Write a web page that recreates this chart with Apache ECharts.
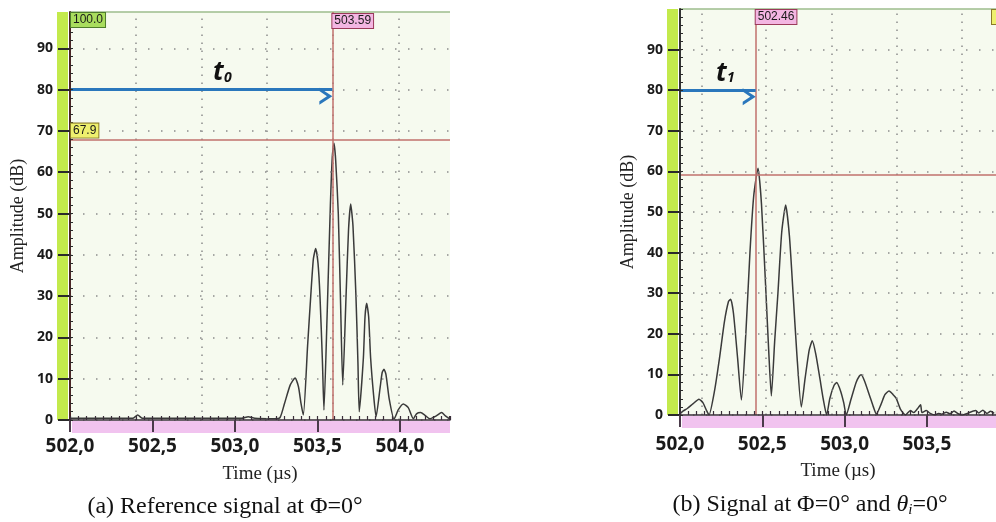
<!DOCTYPE html>
<html>
<head>
<meta charset="utf-8">
<script src="https://cdn.jsdelivr.net/npm/echarts@6/dist/echarts.min.js"></script>
<style>
html, body { margin: 0; padding: 0; background: #fff; }
#main { width: 996px; height: 522px; }
</style>
</head>
<body>
<div id="main"></div>
<script>
// signal (a): reference signal, [time us, amplitude dB]
var leftSignal = [
    [502.00, 0.4], [502.20, 0.4], [502.38, 0.4], [502.41, 1.2], [502.44, 0.4], [502.80, 0.4],
    [503.04, 0.4], [503.08, 0.8], [503.12, 0.4], [503.24, 0.3], [503.273, 0.6],
    [503.30, 4], [503.335, 8.5], [503.364, 10.2], [503.385, 8], [503.40, 4], [503.414, 1.2],
    [503.44, 18], [503.459, 30], [503.475, 39], [503.489, 41.5], [503.503, 38], [503.515, 30], [503.53, 14], [503.539, 2.4],
    [503.558, 25], [503.578, 52], [503.59, 64], [503.60, 67], [503.61, 63], [503.626, 50], [503.64, 28], [503.653, 8.5],
    [503.673, 30], [503.688, 46], [503.701, 52.3], [503.715, 47], [503.733, 30], [503.745, 14], [503.753, 2],
    [503.778, 15], [503.788, 25], [503.798, 28.3], [503.81, 25], [503.822, 15], [503.84, 6], [503.855, 0.8],
    [503.88, 8], [503.892, 11.5], [503.903, 12.3], [503.915, 11], [503.935, 5], [503.964, 0.2],
    [503.99, 2.5], [504.02, 3.9], [504.05, 3], [504.081, 0.3], [504.10, 1.5], [504.125, 1.8], [504.15, 1.2],
    [504.18, 0.3], [504.22, 1.0], [504.252, 1.8], [504.275, 1.0], [504.30, 0.3]
];
// signal (b): phi=0, theta=0
var rightSignal = [
    [502.00, 0.3], [502.02, 1.0], [502.044, 1.6], [502.08, 2.8], [502.115, 3.9], [502.14, 3.0], [502.16, 1.2], [502.176, 0],
    [502.21, 6], [502.24, 14], [502.27, 23], [502.295, 28], [502.308, 28.5], [502.325, 25], [502.35, 14], [502.373, 3.7],
    [502.40, 20], [502.425, 40], [502.448, 54], [502.474, 60.8], [502.495, 52], [502.52, 32], [502.54, 15], [502.555, 4.7],
    [502.575, 18], [502.595, 30], [502.618, 45], [502.642, 51.7], [502.665, 44], [502.687, 30], [502.71, 15], [502.737, 2.0],
    [502.76, 9], [502.785, 16], [502.804, 18.3], [502.825, 15], [502.85, 9], [502.87, 4], [502.891, 0],
    [502.91, 4], [502.935, 7.2], [502.952, 8.0], [502.975, 6], [502.995, 3], [503.01, 0],
    [503.04, 4], [503.07, 8], [503.09, 9.6], [503.101, 9.9], [503.12, 8.5], [503.15, 5], [503.175, 2], [503.193, 0.2],
    [503.22, 2.5], [503.245, 5], [503.27, 5.9], [503.295, 5], [503.314, 4.1], [503.34, 1.4], [503.37, 0],
    [503.40, 1.1], [503.42, 0.6], [503.44, 1.4], [503.462, 2.5], [503.47, 0.6], [503.497, 1.1], [503.52, 0.4],
    [503.55, 0], [503.57, 0.4], [503.59, 0.2], [503.618, 0.7], [503.64, 0.3], [503.665, 1.0], [503.69, 0.3],
    [503.715, 0], [503.74, 0.3], [503.796, 1.1], [503.815, 0.5], [503.84, 1.2], [503.865, 0.4], [503.887, 0.9], [503.909, 0.4]
];
var xTickValues = [502.0, 502.5, 503.0, 503.5, 504.0];
var yTickValues = [0, 10, 20, 30, 40, 50, 60, 70, 80, 90];
// instrument screen grid (vertical dotted lines)
var leftScreenGrid = [502.40, 502.795, 503.19, 503.59, 503.985];
var rightScreenGrid = [502.128, 502.523, 502.918, 503.318, 503.713];
// cursors / readouts
var leftCursorTime = 503.59, leftCursorAmp = 67.9, leftGate = '100.0';
var rightCursorTime = 502.46, rightCursorAmp = 59.1;
var arrowLevel = 80;

var leftXMax = 504.303, leftYMax = 98.8;
var rightXMax = 503.92, rightYMax = 100;

var chart = echarts.init(document.getElementById('main'));

var dotColor = '#8c8c8c';
var cursorStyle = { type: 'solid', color: '#c0706c', width: 1.5 };
var chevron = 'path://M0,12 L10,0 L20,12 L16,12 L10,5 L4,12 Z';

function majorX(gi, max, margin, gap) {
    return {
        type: 'value', gridIndex: gi, min: 502, max: max, interval: 0.5, position: 'bottom', z: 5,
        axisLine: { show: true, onZero: false, lineStyle: { color: '#3a2e3a', width: 1.5 } },
        axisTick: { show: true, inside: false, length: 12, customValues: xTickValues,
            lineStyle: { color: '#4a3a4a', width: 2 } },
        axisLabel: { customValues: xTickValues, margin: margin, color: '#1a1a1a',
            fontFamily: 'Open Sans', fontWeight: 'bold', fontSize: 19,
            formatter: function (v) { return v.toFixed(1).replace('.', ','); } },
        splitLine: { show: false },
        name: 'Time (\u00b5s)', nameLocation: 'middle', nameGap: gap,
        nameTextStyle: { fontFamily: 'Liberation Serif', fontSize: 19, color: '#222' }
    };
}
function minorX(gi, max) {
    return {
        type: 'value', gridIndex: gi, min: 502, max: max, interval: 0.05, position: 'bottom', z: 6,
        axisLine: { show: false, onZero: false },
        axisTick: { show: true, inside: true, length: 4, lineStyle: { color: '#3a2e3a', width: 1.2 } },
        axisLabel: { show: false }, splitLine: { show: false }
    };
}
function majorY(gi, max, lineColor) {
    return {
        type: 'value', gridIndex: gi, min: 0, max: max, interval: 10, position: 'left', z: 5,
        axisLine: { show: true, onZero: false, lineStyle: { color: lineColor, width: 2 } },
        axisTick: { show: true, length: 12, customValues: yTickValues,
            lineStyle: { color: '#2a2a2a', width: 2 } },
        axisLabel: { customValues: yTickValues, margin: 17, color: '#1a1a1a',
            fontFamily: 'Open Sans', fontWeight: 'bold', fontSize: 14 },
        splitLine: { show: true, lineStyle: { type: [1.5, 11.5], color: dotColor, width: 1.5 } },
        name: 'Amplitude (dB)', nameLocation: 'middle', nameGap: 43,
        nameTextStyle: { fontFamily: 'Liberation Serif', fontSize: 18, color: '#222' }
    };
}
function minorY(gi, max) {
    return {
        type: 'value', gridIndex: gi, min: 0, max: max, interval: 2, position: 'left', z: 6,
        axisLine: { show: false, onZero: false },
        axisTick: { show: true, inside: true, length: 3, lineStyle: { color: '#2a2a2a', width: 1 } },
        axisLabel: { show: false }, splitLine: { show: false }
    };
}

function panelMarks(screenGrid, yMax, cursorT, cursorA) {
    var d = screenGrid.map(function (v) {
        return { xAxis: v, lineStyle: { type: [1.5, 6.5], color: dotColor, width: 1.5 } };
    });
    d.push({ yAxis: yMax, lineStyle: { type: 'solid', color: '#9cbc8c', width: 1.5 } });
    d.push({ xAxis: cursorT, lineStyle: cursorStyle });
    d.push({ yAxis: cursorA, lineStyle: cursorStyle });
    return d;
}

function signalSeries(gi, data, marks) {
    return {
        type: 'line', xAxisIndex: gi, yAxisIndex: gi, data: data, symbol: 'none', z: 4, smooth: 0.2,
        lineStyle: { color: '#3a3a3a', width: 1.5 },
        markLine: { silent: true, symbol: ['none', 'none'], label: { show: false }, data: marks }
    };
}

function arrowSeries(gi, endT) {
    return {
        type: 'line', xAxisIndex: gi, yAxisIndex: gi, data: [[502, arrowLevel], [endT, arrowLevel]],
        symbol: 'none', lineStyle: { opacity: 0 }, z: 6,
        markLine: {
            silent: true, symbol: ['none', chevron], symbolSize: [17, 13], symbolOffset: [0, 6.5],
            label: { show: false },
            lineStyle: { type: 'solid', color: '#2a77bc', width: 3 },
            data: [[{ coord: [502, arrowLevel] }, { coord: [endT, arrowLevel] }]]
        }
    };
}

option = {
    animation: false,
    backgroundColor: '#ffffff',
    grid: [
        { left: 70, top: 12, width: 380, height: 408, show: true, backgroundColor: '#f6faef', borderWidth: 0 },
        { left: 680, top: 9, width: 316, height: 406, show: true, backgroundColor: '#f6faef', borderWidth: 0 }
    ],
    xAxis: [
        majorX(0, leftXMax, 17, 45),
        majorX(1, rightXMax, 20, 47),
        minorX(0, leftXMax),
        minorX(1, rightXMax)
    ],
    yAxis: [
        majorY(0, leftYMax, '#4a2626'),
        majorY(1, rightYMax, '#333333'),
        minorY(0, leftYMax),
        minorY(1, rightYMax)
    ],
    series: [
        signalSeries(0, leftSignal, panelMarks(leftScreenGrid, leftYMax, leftCursorTime, leftCursorAmp)),
        signalSeries(1, rightSignal, panelMarks(rightScreenGrid, rightYMax, rightCursorTime, rightCursorAmp)),
        arrowSeries(0, leftCursorTime),
        arrowSeries(1, rightCursorTime)
    ]
};
chart.setOption(option);

// strips, readout boxes, t labels and captions
function px(gi, x, y) { return chart.convertToPixel({ gridIndex: gi }, [x, y]); }
function box(x, y, text, fill, stroke) {
    return { type: 'text', x: x, y: y, z: 10,
        style: { text: text, font: '12px "Liberation Sans"', fill: '#1a1a1a',
            backgroundColor: fill, borderColor: stroke, borderWidth: 1, padding: [1, 2, 1, 2] } };
}
function tLabel(gi, t, sub) {
    var p = px(gi, t, arrowLevel);
    return [
        { type: 'text', x: p[0], y: p[1] - 4, z: 10,
            style: { text: 't', font: 'italic bold 26px "Open Sans"', fill: '#111', align: 'left', verticalAlign: 'bottom' } },
        { type: 'text', x: p[0] + 11, y: p[1] - 5, z: 10,
            style: { text: sub, font: 'italic bold 14px "Open Sans"', fill: '#111', align: 'left', verticalAlign: 'bottom' } }
    ];
}

var els = [];
[[0, leftXMax, leftYMax], [1, rightXMax, rightYMax]].forEach(function (g) {
    var bl = px(g[0], 502, 0), tr = px(g[0], g[1], g[2]);
    els.push({ type: 'rect', z: 1, shape: { x: bl[0] - 13, y: tr[1], width: 11, height: bl[1] - tr[1] },
        style: { fill: '#c3ea4c' } });
    els.push({ type: 'rect', z: 1, shape: { x: bl[0] + 2, y: bl[1] + 1, width: tr[0] - bl[0] - 2, height: 12 },
        style: { fill: '#f1c3ef' } });
});

var lb = px(0, 502, 0), lt = px(0, leftXMax, leftYMax);
els.push(box(lb[0] + 1, lt[1] + 1, leftGate, '#a9dd5e', '#4f7d2c'));
els.push(box(px(0, leftCursorTime, 0)[0], lt[1] + 2, leftCursorTime.toFixed(2), '#f3b6e2', '#9a3a5a'));
els.push(box(lb[0] + 1, px(0, 502, leftCursorAmp)[1] - 16, leftCursorAmp.toFixed(1), '#eef06e', '#8a7a2a'));

var rb = px(1, 502, 0), rt = px(1, rightXMax, rightYMax);
els.push(box(px(1, rightCursorTime, 0)[0], rt[1] + 1, rightCursorTime.toFixed(2), '#f3b6e2', '#9a3a5a'));
els.push(box(rt[0] - 4, rt[1] + 1, '    ', '#eef06e', '#8a7a2a'));

els = els.concat(tLabel(0, 502.867, '0'), tLabel(1, 502.219, '1'));

els.push({ type: 'text', x: 225, y: 507, z: 10,
    style: { text: '(a) Reference signal at \u03a6=0\u00b0', font: '24px "Liberation Serif"', fill: '#111',
        align: 'center', verticalAlign: 'middle' } });
els.push({ type: 'text', x: 810, y: 505, z: 10,
    style: { text: '(b) Signal at \u03a6=0\u00b0 and {it|\u03b8}{sub|i}=0\u00b0', font: '24px "Liberation Serif"',
        fill: '#111', align: 'center', verticalAlign: 'middle',
        rich: { it: { fontFamily: 'Liberation Serif', fontSize: 24, fontStyle: 'italic' },
            sub: { fontFamily: 'Liberation Serif', fontSize: 15, fontStyle: 'italic', padding: [11, 0, 0, 0] } } } });

chart.setOption({ graphic: { elements: els } });
</script>
</body>
</html>
